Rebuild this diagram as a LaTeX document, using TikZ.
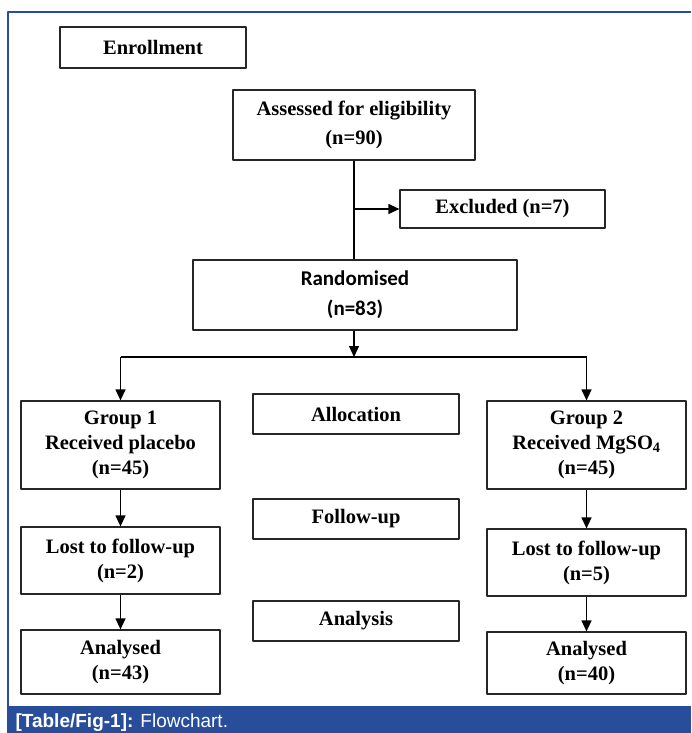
\documentclass[tikz,border=0pt]{standalone}
\usepackage{fontspec}
\setmainfont{Liberation Serif}
\newfontfamily\calfont{Carlito}
\newfontfamily\capfont{Liberation Sans}
\usetikzlibrary{arrows.meta}

\begin{document}
\begin{tikzpicture}[x=1pt, y=-1pt, line join=round,
  box/.style={draw=black!85, line width=1.2pt, align=center, inner sep=0pt,
    font=\fontsize{20.5}{25}\selectfont\bfseries},
  side/.style={box, minimum width=199pt},
  stage/.style={box, minimum width=206pt, minimum height=40pt},
  arr/.style={line width=1.2pt, -{Triangle[width=10pt,length=11pt]}}]
  \definecolor{capblue}{RGB}{40,78,155}
  \useasboundingbox (0,0) rectangle (691,733);
  \fill[white] (0,0) rectangle (691,733);
  \draw[capblue, line width=1.5pt] (8,706) -- (8,12) -- (691,12);
  \fill[capblue] (7.25,706) rectangle (691,733);
  \node[anchor=base west, text=white, font=\fontsize{19}{20}\selectfont\capfont] (cap) at (12,727)
    {\textbf{[Table/Fig-1]:} Flowchart.};

  \node[box, minimum width=186pt, minimum height=41pt] (enroll) at (153,47.5) {Enrollment};
  \node[box, minimum width=242pt, minimum height=70pt, font=\fontsize{20.5}{29}\selectfont\bfseries]
    (assess) at (354,125) {Assessed for eligibility\\(n=90)};
  \node[box, minimum width=205pt, minimum height=38pt] (excl) at (502.5,209) {Excluded (n=7)};
  \node[box, minimum width=324pt, minimum height=70pt, font=\fontsize{21}{30}\selectfont\calfont\bfseries]
    (rand) at (355,295) {Randomised\\(n=83)};

  \node[side, minimum height=88pt] (grp1) at (120.5,445) {Group 1\\Received placebo\\(n=45)};
  \node[side, minimum height=88pt] (grp2) at (586.5,445) {Group 2\\Received MgSO\textsubscript{4}\\(n=45)};
  \node[side, minimum height=67pt] (lost1) at (120.5,560.5) {Lost to follow-up\\(n=2)};
  \node[side, minimum height=67pt] (lost2) at (586.5,562.5) {Lost to follow-up\\(n=5)};
  \node[side, minimum height=64pt] (anal1) at (120.5,662) {Analysed\\(n=43)};
  \node[side, minimum height=62pt] (anal2) at (586.5,663) {Analysed\\(n=40)};

  \node[stage] (alloc) at (356,414) {Allocation};
  \node[stage] (follow) at (356,519) {Follow-up};
  \node[stage] (analysis) at (356,621) {Analysis};

  \coordinate (split) at (354,357);
  \draw[line width=1.2pt] (assess.south) -- (assess.south |- rand.north);
  \draw[arr] (assess.south |- excl.west) -- (excl.west);
  \draw[arr] (assess.south |- rand.south) -- (split);
  \draw[line width=1.2pt] (grp1.north |- split) -- (grp2.north |- split);
  \draw[arr] (grp1.north |- split) -- (grp1.north);
  \draw[arr] (grp2.north |- split) -- (grp2.north);
  \draw[arr] (grp1) -- (lost1);
  \draw[arr] (grp2) -- (lost2);
  \draw[arr] (lost1) -- (anal1);
  \draw[arr] (lost2) -- (anal2);
\end{tikzpicture}
\end{document}
